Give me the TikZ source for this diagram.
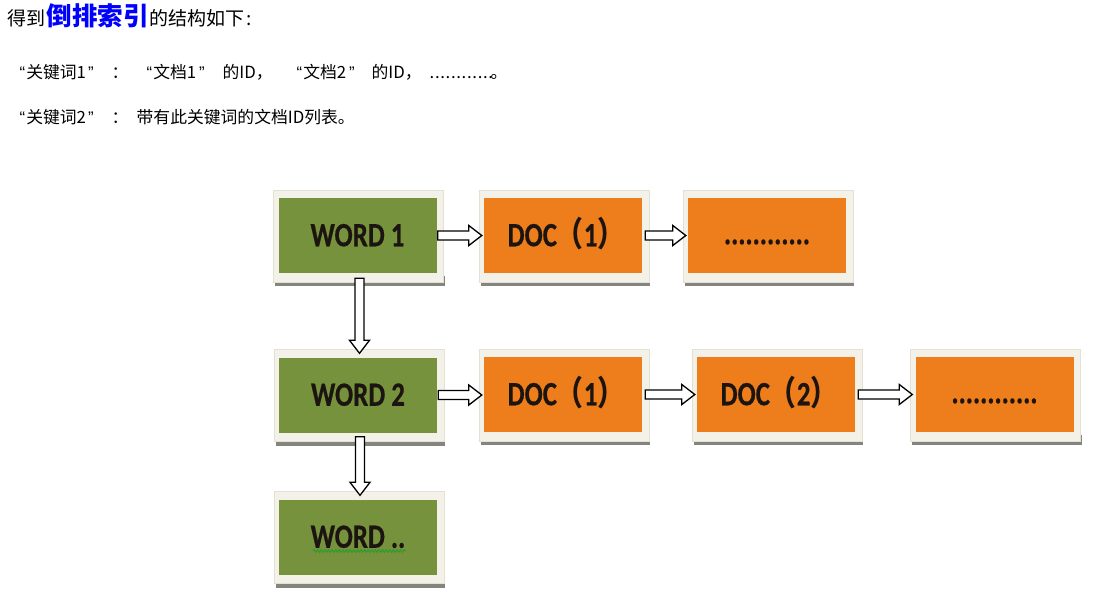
\documentclass[tikz,border=0pt]{standalone}
\usepackage{fontspec}
\usepackage{graphicx}
\newfontfamily\cjk{Noto Sans CJK SC}[Kerning=Off]
\newfontfamily\latq{Liberation Sans}
\newfontfamily\boxfont{Carlito}[BoldFeatures={FakeBold=0.6}]
\usetikzlibrary{calc,backgrounds,decorations.pathmorphing}
\definecolor{wgreen}{HTML}{76923C}
\definecolor{dorange}{HTML}{EE7E1C}
\definecolor{framec}{HTML}{F4F2E8}
\definecolor{frameline}{HTML}{E4E1D4}
\definecolor{shadowc}{HTML}{85857F}
\definecolor{hblue}{HTML}{0000FF}
\definecolor{boxtext}{HTML}{1C1410}
\definecolor{wavy}{HTML}{2E9B2E}
\newcommand\boxtxt[1]{\scalebox{0.79}[1]{#1}}
\newcommand\pos[2]{\makebox[0pt][l]{\hspace{#1pt}#2}}
\newcommand\oq{{\latq “}}
\newcommand\cq{{\latq ”}}
\tikzset{
 cell/.style={minimum width=158pt, minimum height=75pt, inner sep=0pt, text=boxtext,
   text height=21.5pt, text depth=0pt,
   font=\boxfont\bfseries\fontsize{34}{36}\selectfont},
 wordbox/.style={cell, fill=wgreen},
 docbox/.style={cell, fill=dorange},
 harrow/.style={draw=black, line width=1.3pt, fill=white, line join=miter,
   to path={let \p1=(\tikztostart), \p2=(\tikztotarget) in
     (\x1,\y1+4.5pt) -- (\x2-13pt,\y1+4.5pt) -- (\x2-13pt,\y1+10pt) -- (\x2,\y1)
     -- (\x2-13pt,\y1-10pt) -- (\x2-13pt,\y1-4.5pt) -- (\x1,\y1-4.5pt) -- cycle}},
 varrow/.style={draw=black, line width=1.3pt, fill=white, line join=miter,
   to path={let \p1=(\tikztostart), \p2=(\tikztotarget) in
     (\x1-4.5pt,\y1) -- (\x1-4.5pt,\y2+13pt) -- (\x1-10pt,\y2+13pt) -- (\x1,\y2)
     -- (\x1+10pt,\y2+13pt) -- (\x1+4.5pt,\y2+13pt) -- (\x1+4.5pt,\y1) -- cycle}},
 txt/.style={anchor=base west, inner sep=0pt, font=\cjk\fontsize{16.8}{19}\selectfont}
}
\begin{document}
\begin{tikzpicture}[x=1pt,y=-1pt]
\useasboundingbox (0,0) rectangle (1093,598);

% heading text
\node[txt, font=\cjk\fontsize{19}{22}\selectfont] (t1) at (0,25.5)
  {\pos{7}{得到}\pos{46}{\color{hblue}\bfseries\fontsize{25.5}{27}\selectfont 倒排索引}\pos{149}{的结构如下}\pos{246}{:}};
\node[txt] (t2) at (0,78.5)
  {\pos{19}{\oq\hspace{1pt}关键词1\hspace{2pt}\cq}\pos{111}{：}\pos{146}{\oq\hspace{1pt}文档1\hspace{3pt}\cq}\pos{222}{的ID，}\pos{296}{\oq\hspace{1pt}文档2\hspace{3pt}\cq}\pos{371}{的ID，}\pos{429}{\addfontfeature{LetterSpace=4}............}\pos{490}{。}};
\node[txt] (t3) at (0,123.5)
  {\pos{19}{\oq\hspace{1pt}关键词2\hspace{2pt}\cq}\pos{111}{：}\pos{136}{带有此关键词的文档ID列表。}};

% boxes
\node[wordbox] (w1) at (357.5,235.5) {\boxtxt{WORD 1}};
\node[docbox] (d11) at (563,235.5) {\hspace{6pt}\boxtxt{DOC{\cjk （}1{\cjk ）}}};
\node[docbox] (e1) at (767,235.5) {\raisebox{2pt}{\boxtxt{............}}};
\node[wordbox] (w2) at (358,395) {\boxtxt{WORD 2}};
\node[docbox] (d21) at (563,394.5) {\hspace{6pt}\boxtxt{DOC{\cjk （}1{\cjk ）}}};
\node[docbox] (d22) at (776,394.5) {\hspace{6pt}\boxtxt{DOC{\cjk （}2{\cjk ）}}};
\node[docbox] (e2) at (994.5,394.5) {\raisebox{2pt}{\boxtxt{............}}};
\node[wordbox] (w3) at (358,537) {\boxtxt{WORD ..}};
\coordinate (wvs) at ([shift={(-45,14)}]w3.center);
\coordinate (wve) at ([shift={(48,14)}]w3.center);
\draw[wavy, line width=1pt, decorate, decoration={snake, amplitude=1.3pt, segment length=3.6pt}] (wvs) -- (wve);

% frames and shadows
\begin{scope}[on background layer]
\fill[white] (0,0) rectangle (1093,598);
\foreach \n in {w1,d11,e1,w2,d21,d22,e2,w3}{
  \fill[shadowc] ([shift={(-3,3)}]\n.south west) rectangle ([shift={(8,13)}]\n.south east);
  \filldraw[fill=framec, draw=frameline, line width=0.6pt]
    ([shift={(-5,-8)}]\n.north west) rectangle ([shift={(7,9)}]\n.south east);
}
\end{scope}

% arrows
\draw[harrow] ([xshift=1pt]w1.east) to ([xshift=-2pt]d11.west);
\draw[harrow] ([xshift=3pt]d11.east) to ([xshift=-2pt]e1.west);
\draw[harrow] ([xshift=1pt]w2.east) to ([xshift=-2pt]d21.west);
\draw[harrow] ([xshift=3pt]d21.east) to ([xshift=-2pt]d22.west);
\draw[harrow] ([xshift=3pt]d22.east) to ([xshift=-3pt]e2.west);
\draw[varrow] ([shift={(2,5)}]w1.south) to ([shift={(2,-4)}]w2.north);
\draw[varrow] ([shift={(2,4)}]w2.south) to ([shift={(2,-4)}]w3.north);
\end{tikzpicture}
\end{document}
